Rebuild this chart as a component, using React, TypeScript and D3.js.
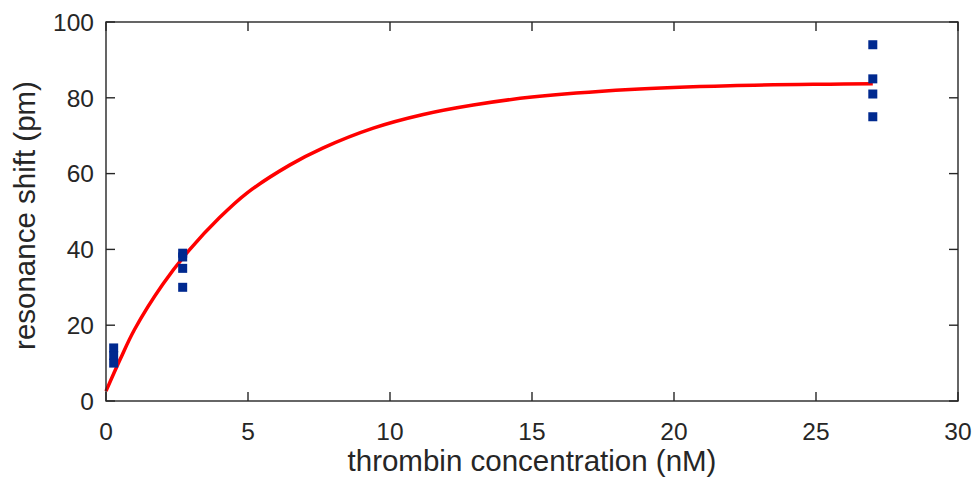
import React from "react";
import * as d3 from "d3";

const W = 974;
const H = 482;

// measured data points (concentration nM, shift pm)
const pointX = [0.27, 0.27, 0.27, 2.7, 2.7, 2.7, 2.7, 27, 27, 27, 27];
const pointY = [14, 12, 10, 39, 38, 35, 30, 94, 85, 81, 75];

// fitted curve
const fitX = [0, 0.5, 1, 2, 2.93, 4, 4.95, 6.48, 7.65, 9.41, 11.17, 12.93, 15.0, 18.45, 21.97, 25.49, 27];
const fitY = [2.6, 11.0, 18.8, 30.8, 39.8, 48.4, 54.8, 62.3, 66.8, 72.0, 75.6, 78.1, 80.2, 82.2, 83.2, 83.6, 83.7];

const xTicks = [0, 5, 10, 15, 20, 25, 30];
const yTicks = [0, 20, 40, 60, 80, 100];

const xLabel = "thrombin concentration (nM)";
const yLabel = "resonance shift (pm)";

export default function App() {
  const left = 106, right = 958, top = 22, bottom = 401;
  const x = d3.scaleLinear().domain([0, 30]).range([left, right]);
  const y = d3.scaleLinear().domain([0, 100]).range([bottom, top]);
  const axisColor = "#262626";
  const font = "'Liberation Sans', Arial, Helvetica, sans-serif";
  const tickLen = 9;
  const ms = 9;

  const line = d3
    .line<number>()
    .x((_, i) => x(fitX[i]))
    .y((d) => y(d))
    .curve(d3.curveCatmullRom.alpha(0.5));

  return (
    <div style={{ position: "fixed", left: 0, top: 0 }}>
      <svg width={W} height={H} style={{ display: "block", background: "#fff" }}>
        <rect x={0} y={0} width={W} height={H} fill="#fff" />
        {/* fit curve */}
        <path d={line(fitY) || ""} fill="none" stroke="#ff0000" strokeWidth={3.5} />
        {/* points */}
        {pointX.map((px, i) => (
          <rect
            key={i}
            x={x(px) - ms / 2}
            y={y(pointY[i]) - ms / 2}
            width={ms}
            height={ms}
            fill="#00298f"
          />
        ))}
        {/* box */}
        <rect
          x={left}
          y={top}
          width={right - left}
          height={bottom - top}
          fill="none"
          stroke={axisColor}
          strokeWidth={1.4}
        />
        {/* x ticks */}
        {xTicks.map((t) => (
          <g key={"x" + t}>
            <line x1={x(t)} x2={x(t)} y1={bottom} y2={bottom - tickLen} stroke={axisColor} strokeWidth={1.4} />
            <line x1={x(t)} x2={x(t)} y1={top} y2={top + tickLen} stroke={axisColor} strokeWidth={1.4} />
            <text
              x={x(t)}
              y={440}
              textAnchor="middle"
              fontFamily={font}
              fontSize={24.5}
              fill={axisColor}
            >
              {t}
            </text>
          </g>
        ))}
        {/* y ticks */}
        {yTicks.map((t) => (
          <g key={"y" + t}>
            <line x1={left} x2={left + tickLen} y1={y(t)} y2={y(t)} stroke={axisColor} strokeWidth={1.4} />
            <line x1={right} x2={right - tickLen} y1={y(t)} y2={y(t)} stroke={axisColor} strokeWidth={1.4} />
            <text
              x={94}
              y={y(t)}
              dy="0.36em"
              textAnchor="end"
              fontFamily={font}
              fontSize={24.5}
              fill={axisColor}
            >
              {t}
            </text>
          </g>
        ))}
        <text
          x={(left + right) / 2}
          y={471}
          textAnchor="middle"
          fontFamily={font}
          fontSize={29.5}
          fill={axisColor}
        >
          {xLabel}
        </text>
        <text
          transform={`translate(35, ${(top + bottom) / 2 + 4}) rotate(-90)`}
          textAnchor="middle"
          fontFamily={font}
          fontSize={29.5}
          fill={axisColor}
        >
          {yLabel}
        </text>
      </svg>
    </div>
  );
}
